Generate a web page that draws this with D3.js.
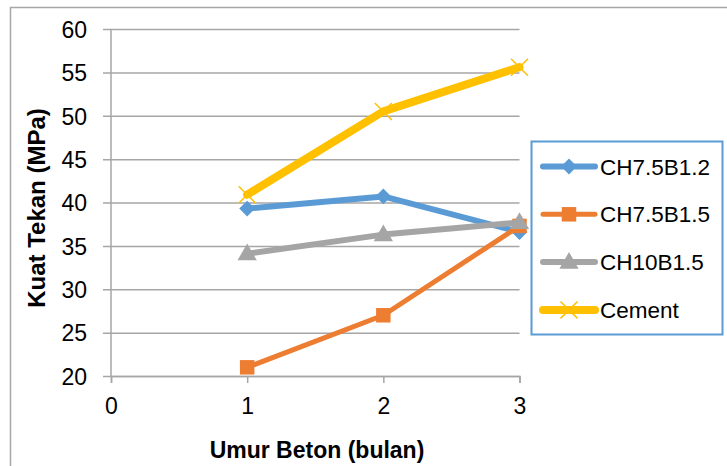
<!DOCTYPE html>
<html>
<head>
<meta charset="utf-8">
<script src="https://cdn.jsdelivr.net/npm/d3@7"></script>
<style>
  html, body { margin: 0; padding: 0; background: #fff; }
  svg { display: block; font-family: "Liberation Sans", Arial, sans-serif; }
</style>
</head>
<body>
<svg id="chart" width="727" height="466"></svg>
<script>
// chart data
const months = [1, 2, 3];
const xTicks = [0, 1, 2, 3];
const yTicks = [20, 25, 30, 35, 40, 45, 50, 55, 60];
const seriesNames = ["CH7.5B1.2", "CH7.5B1.5", "CH10B1.5", "Cement"];
const ch75b12 = [39.3, 40.7, 36.6];
const ch75b15 = [21.0, 27.0, 37.3];
const ch10b15 = [34.1, 36.3, 37.7];
const cement = [40.9, 50.5, 55.6];

const series = [
  { name: seriesNames[0], values: ch75b12, color: "#5B9BD5", marker: "diamond", width: 6 },
  { name: seriesNames[1], values: ch75b15, color: "#ED7D31", marker: "square", width: 5 },
  { name: seriesNames[2], values: ch10b15, color: "#A5A5A5", marker: "triangle", width: 6 },
  { name: seriesNames[3], values: cement, color: "#FFC000", marker: "x", width: 8 }
];

const svg = d3.select("#chart");
const margin = { top: 29, right: 207, bottom: 90, left: 111 };
const width = 727;
const height = 466;

// outer chart border (runs off the right and bottom of the picture)
svg.append("rect")
  .attr("x", 10.5).attr("y", 7.5)
  .attr("width", 760).attr("height", 500)
  .attr("fill", "#fff")
  .attr("stroke", "#A6A6A6")
  .attr("stroke-width", 1.5);

const x = d3.scaleLinear()
  .domain([0, 3])
  .range([margin.left, width - margin.right - 0.5]);

const y = d3.scaleLinear()
  .domain([20, 60])
  .range([height - margin.bottom, margin.top]);

// horizontal grid + y ticks
svg.append("g")
  .attr("transform", `translate(${margin.left},0)`)
  .call(d3.axisLeft(y).tickValues(yTicks).tickSize(8).tickPadding(16))
  .call((g) => g.select(".domain").remove())
  .call((g) => g.selectAll("line").attr("stroke", "#A6A6A6").attr("stroke-width", 1.5)
    .attr("x2", -8).attr("x1", x(3) - margin.left))
  .call((g) => g.selectAll("text").attr("fill", "#000").style("font-size", "23px")
    .attr("dy", "0.36em"));

// y axis line
svg.append("line")
  .attr("x1", x(0)).attr("x2", x(0))
  .attr("y1", y(60)).attr("y2", y(20))
  .attr("stroke", "#A6A6A6").attr("stroke-width", 1.5);

// x axis
svg.append("g")
  .attr("transform", `translate(0,${y(20)})`)
  .call(d3.axisBottom(x).tickValues(xTicks).tickFormat(d3.format("d")).tickSize(7).tickPadding(15))
  .call((g) => g.select(".domain").attr("stroke", "#A6A6A6").attr("stroke-width", 1.5))
  .call((g) => g.selectAll("line").attr("stroke", "#A6A6A6").attr("stroke-width", 1.5))
  .call((g) => g.selectAll("text").attr("fill", "#000").style("font-size", "23px"));

// axis titles
svg.append("text")
  .attr("x", 317).attr("y", 458)
  .attr("text-anchor", "middle")
  .style("font-size", "23px").style("font-weight", "bold")
  .text("Umur Beton (bulan)");

svg.append("text")
  .attr("transform", "translate(45,208) rotate(-90)")
  .attr("text-anchor", "middle")
  .style("font-size", "24px").style("font-weight", "bold")
  .text("Kuat Tekan (MPa)");

function drawMarker(g, type, color, cx, cy) {
  if (type === "diamond") {
    g.append("path")
      .attr("d", d3.symbol(d3.symbolDiamond2, 160)())
      .attr("transform", `translate(${cx},${cy})`)
      .attr("fill", color);
  } else if (type === "square") {
    g.append("path")
      .attr("d", d3.symbol(d3.symbolSquare, 210)())
      .attr("transform", `translate(${cx},${cy})`)
      .attr("fill", color);
  } else if (type === "triangle") {
    g.append("path")
      .attr("d", d3.symbol(d3.symbolTriangle, 160)())
      .attr("transform", `translate(${cx},${cy + 1})`)
      .attr("fill", color);
  } else {
    g.append("path")
      .attr("d", d3.symbol(d3.symbolX, 190)())
      .attr("transform", `translate(${cx},${cy})`)
      .attr("fill", "none")
      .attr("stroke", color)
      .attr("stroke-width", 1.5);
  }
}

const line = d3.line()
  .x((d, i) => x(months[i]))
  .y((d) => y(d));

series.forEach((s) => {
  const g = svg.append("g");
  g.append("path")
    .datum(s.values)
    .attr("d", line)
    .attr("fill", "none")
    .attr("stroke", s.color)
    .attr("stroke-width", s.width)
    .attr("stroke-linejoin", "round")
    .attr("stroke-linecap", "round");
  s.values.forEach((v, i) => drawMarker(g, s.marker, s.color, x(months[i]), y(v)));
});

// legend
const legend = svg.append("g");
legend.append("rect")
  .attr("x", 531.5).attr("y", 141.5)
  .attr("width", 191).attr("height", 193)
  .attr("fill", "#fff")
  .attr("stroke", "#5B9BD5")
  .attr("stroke-width", 2);

series.forEach((s, i) => {
  const ly = 166.5 + i * 47.8;
  legend.append("line")
    .attr("x1", 543).attr("x2", 595)
    .attr("y1", ly).attr("y2", ly)
    .attr("stroke", s.color)
    .attr("stroke-width", s.width)
    .attr("stroke-linecap", "round");
  drawMarker(legend, s.marker, s.color, 569, ly);
  legend.append("text")
    .attr("x", 600).attr("y", ly)
    .attr("dy", "0.36em")
    .style("font-size", "22.5px")
    .text(s.name);
});
</script>
</body>
</html>
